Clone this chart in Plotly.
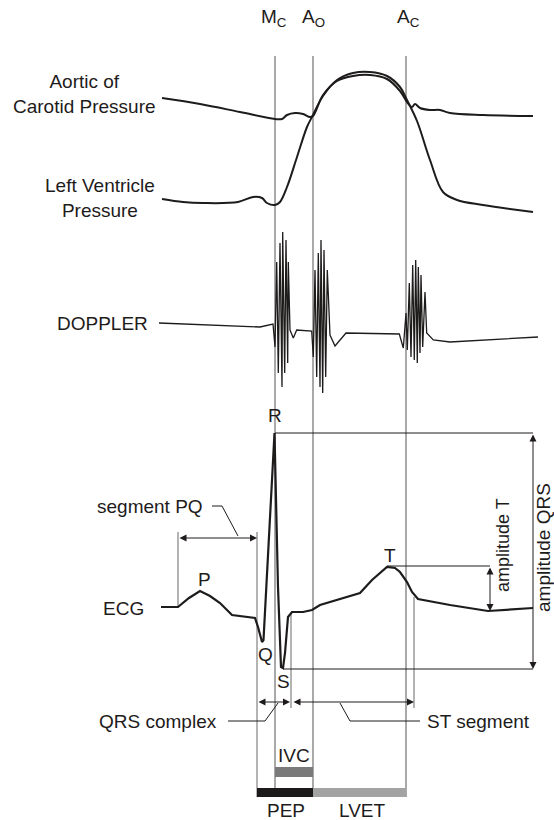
import plotly.graph_objects as go

# ---------------- data (diagram units: x = time axis, y = screen-like amplitude axis) ----------------
event_x = {"Mc": 275, "Ao": 313, "Ac": 406}
event_labels = ["M<sub>C</sub>", "A<sub>O</sub>", "A<sub>C</sub>"]
event_label_x = [274, 313, 408]

aortic_t = [162, 200, 240, 275, 282, 287, 295, 303, 310, 313, 323, 337, 353, 370, 387, 400, 407, 412, 415, 420, 430, 440, 450, 483, 533]
aortic_p = [98, 104, 112, 119, 119, 115, 113, 114, 117, 116, 95, 81, 76, 75, 79, 91, 102, 107, 104, 108, 110, 110, 113, 115, 116]

lv_t = [162, 183, 203, 238, 253, 262, 267, 275, 280, 287, 297, 307, 313, 323, 337, 353, 370, 387, 400, 407, 417, 430, 443, 457, 483, 533]
lv_p = [199, 202, 203, 202, 197, 198, 203, 205, 202, 187, 157, 127, 115, 96, 80, 73, 72, 76, 87, 100, 121, 160, 192, 200, 205, 212]

doppler_t = [159, 260, 273, 275, 276.7, 278.3, 280, 282, 282.7, 284.7, 286, 287.7, 288.3, 290, 293.3, 296.7, 311.7,
             313.3, 315, 316.7, 318.3, 320, 321, 322.7, 324, 325.7, 327.3, 330, 335, 346, 399.3, 403.3,
             406, 407.3, 409.3, 411, 412.7, 414.3, 415.7, 417.3, 418.3, 420, 421, 422.7, 425, 426.7, 433.3, 450, 538]
doppler_v = [323, 327, 324, 347, 262, 373, 243, 387, 232, 373, 240, 363, 262, 330, 338, 330, 331,
             357, 270, 377, 253, 387, 240, 393, 250, 377, 270, 335, 346, 333, 334, 348,
             313, 350, 283, 357, 265, 360, 260, 363, 267, 353, 275, 347, 292, 333, 340, 342, 337]

ecg_t = [161, 178, 189, 200, 210, 220, 232, 245, 255, 258, 262, 263.5, 274.5, 278, 281, 283, 285, 288, 292, 303, 312, 320, 330,
         345, 360, 372, 387, 395, 400, 407, 412, 418, 450, 488, 533]
ecg_v = [607, 607, 598, 591, 596, 603, 615, 617, 618, 627, 642, 640, 433, 587, 667, 668, 653, 617, 612, 612, 610, 605, 602,
         598, 593, 580, 567, 568, 572, 582, 592, 599, 605, 611, 608]

wave_labels = ["P", "Q", "R", "S", "T"]
wave_label_x = [204, 265, 275, 283, 390]
wave_label_y = [579, 654, 415, 681, 555]

left_labels = ["Aortic of<br>Carotid Pressure", "Left Ventricle<br>Pressure", "DOPPLER", "ECG"]
left_label_x = [84, 100, 102, 123]
left_label_y = [94, 198, 323, 608]

# interval bars: name, start, end, level, colour
bar_names = ["PEP", "LVET", "IVC"]
bar_start = [257, 313, 275]
bar_end = [313, 406, 313]
bar_level = [792.5, 792.5, 772]
bar_thick = [9, 9, 10]
bar_colors = ["#1c1a1a", "#a3a3a3", "#7a7a7a"]
bar_text_x = [286, 362, 294]
bar_text_y = [810, 810, 755]

# amplitude references
R_level, S_level, T_level, T_base = 433, 669, 566, 611

# ---------------- figure ----------------
INK = "#1e1b1b"
GRAY = "#8c8c8c"
FONT = "Liberation Sans, Arial, sans-serif"
FS = 19

fig = go.Figure()

def line(xs, ys, color=INK, width=1, shape="linear"):
    fig.add_trace(go.Scatter(x=xs, y=ys, mode="lines", line=dict(color=color, width=width, shape=shape),
                             hoverinfo="skip", showlegend=False))

# event verticals
for k in ["Mc", "Ao", "Ac"]:
    line([event_x[k], event_x[k]], [56, 797], GRAY, 1.5)

# other grey guide verticals
line([178, 178], [532, 607], GRAY, 1.3)
line([257, 257], [532, 797], GRAY, 1.3)
line([291, 291], [613, 708], GRAY, 1.3)
line([414, 414], [597, 708], GRAY, 1.3)

# interval bars
for s, e, lv, th, c in zip(bar_start, bar_end, bar_level, bar_thick, bar_colors):
    line([s, e], [lv, lv], c, th)

# curves
line(aortic_t, aortic_p, INK, 2, "spline")
line(lv_t, lv_p, INK, 2, "spline")
line(doppler_t, doppler_v, INK, 1.3)
line(ecg_t, ecg_v, INK, 2.2)

# amplitude horizontal lines
line([275, 533], [R_level, R_level], INK, 1)
line([283, 533], [S_level, S_level], INK, 1)
line([387, 490], [T_level, T_level], INK, 1)

# leader lines
line([212, 222, 238], [506, 506, 536], INK, 1)
line([228, 265, 278], [721, 721, 703], INK, 1)
line([340, 350, 420], [703, 721, 721], INK, 1)

ann = []
def arrow(x0, y0, x1, y1):
    ann.append(dict(x=x1, y=y1, ax=x0, ay=y0, xref="x", yref="y", axref="x", ayref="y", text="",
                    showarrow=True, arrowhead=2, arrowside="end+start", arrowsize=1.4, arrowwidth=1,
                    arrowcolor=INK, standoff=0, startstandoff=0))

arrow(178, 538, 257, 538)
arrow(257, 702, 290, 702)
arrow(292, 702, 414, 702)
arrow(533, R_level, 533, S_level)
arrow(490, T_level, 490, T_base)

def text(x, y, s, size=FS, angle=0, xanchor="center"):
    ann.append(dict(x=x, y=y, xref="x", yref="y", text=s, showarrow=False, textangle=angle,
                    xanchor=xanchor, yanchor="middle", font=dict(family=FONT, size=size, color=INK)))

for lx, lt in zip(event_label_x, event_labels):
    text(lx, 18, lt)
for lt, lx, ly in zip(wave_labels, wave_label_x, wave_label_y):
    text(lx, ly, lt)
for lt, lx, ly in zip(left_labels, left_label_x, left_label_y):
    text(lx, ly, lt)
for lt, lx, ly in zip(bar_names, bar_text_x, bar_text_y):
    text(lx, ly, lt)
text(205, 506, "segment PQ", xanchor="right")
text(219, 721, "QRS complex", xanchor="right")
text(425, 721, "ST segment", xanchor="left")
text(503, 545, "amplitude T", size=18, angle=-90)
text(543, 548, "amplitude QRS", size=19, angle=-90)

fig.update_layout(
    width=554, height=820, margin=dict(l=0, r=0, t=0, b=0),
    paper_bgcolor="white", plot_bgcolor="white", annotations=ann,
    xaxis=dict(range=[0, 554], visible=False, fixedrange=True),
    yaxis=dict(range=[820, 0], visible=False, fixedrange=True),
    font=dict(family=FONT),
)
fig.write_html("out.html")
